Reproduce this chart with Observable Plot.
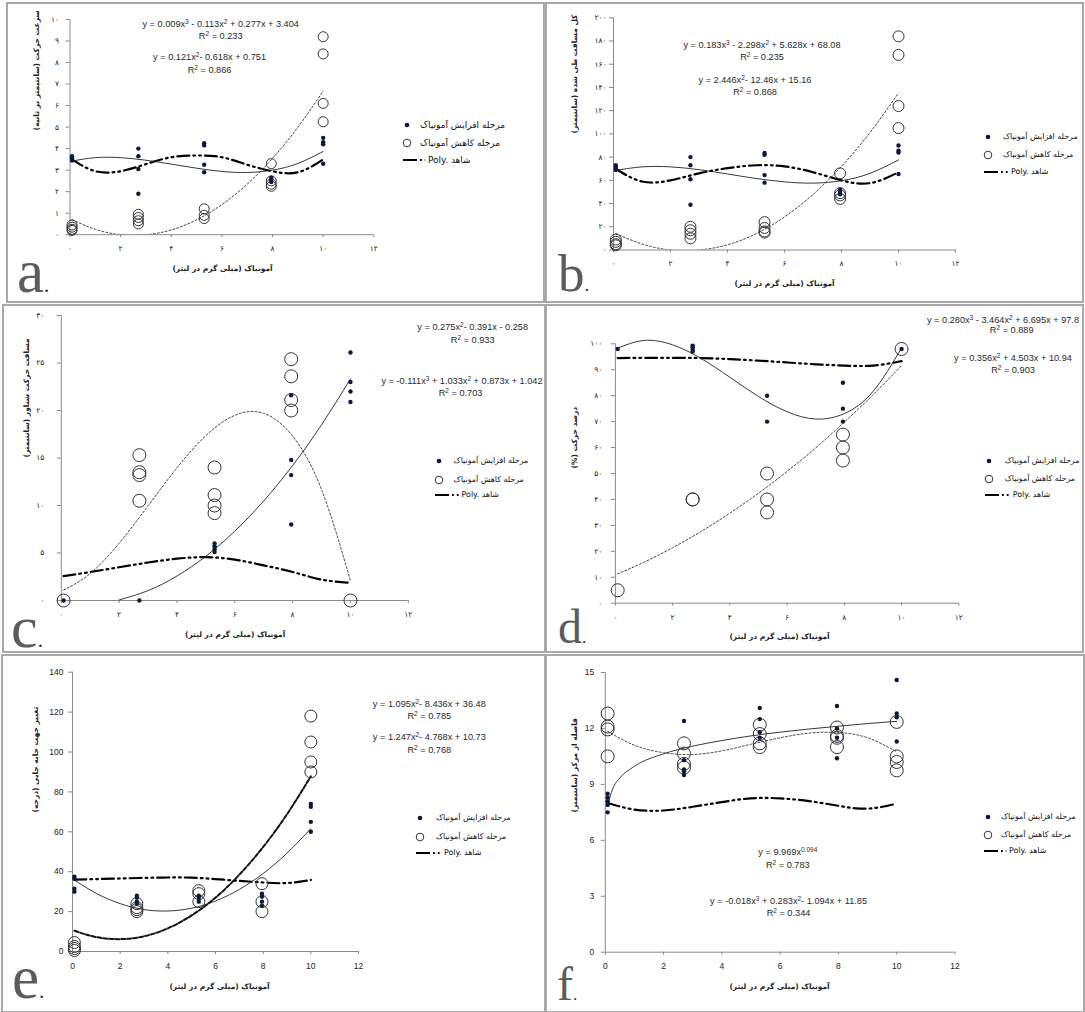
<!DOCTYPE html>
<html><head><meta charset="utf-8">
<script src="https://cdn.jsdelivr.net/npm/d3@7"></script>
<script src="https://cdn.jsdelivr.net/npm/@observablehq/plot@0.6"></script>
<style>
body{margin:0;background:#fff;}
#page{position:relative;width:1085px;height:1012px;overflow:hidden;background:#fff;}
.panel{position:absolute;overflow:hidden;}
.panel svg{position:absolute;left:0;top:0;}
.frame{position:absolute;border:2px solid #a8a8a8;box-sizing:border-box;pointer-events:none;}
.eq{position:absolute;transform:translate(-50%,-50%);white-space:nowrap;font:9.2px "Liberation Sans",Arial,sans-serif;color:#2a2a2a;line-height:1;}
.eq sup{font-size:6.5px;vertical-align:3.5px;line-height:0;}
.lg{position:absolute;white-space:nowrap;font-family:"DejaVu Sans",sans-serif;color:#111;transform:translateY(-50%);line-height:1;}
.sw{position:absolute;overflow:visible;}
.letter{position:absolute;font-family:"Liberation Serif","DejaVu Serif",serif;color:#5c5c5c;line-height:1;white-space:nowrap;}
.letter span{color:#333;}
</style></head><body><div id="page"></div>
<script>
// ---------- shared data ----------
const conc = [0.08, 2.7, 5.3, 7.95, 10];
const fitX = [0.08, 1, 2, 3, 4, 5, 6, 7, 8, 9, 10];
const xTicks = [0, 2, 4, 6, 8, 10, 12];
const xTitle = "آمونیاک (میلی گرم در لیتر)";
const legInc = "مرحله افزایش آمونیاک";
const legDec = "مرحله کاهش آمونیاک";
const legCtrl = "Poly. شاهد";

// ---------- panel a ----------
const aYTitle = "سرعت حرکت (سانتیمتر بر ثانیه)";
const aTicksY = [0,1,2,3,4,5,6,7,8,9,10];
const aInc = [[3.65,3.55,3.45],[4.0,3.65,3.05,1.9],[4.25,4.15,3.25,2.9],[2.65,2.55,2.45],[4.5,4.3,4.2,3.3]];
const aDec = [[0.45,0.35,0.25,0.2],[0.95,0.8,0.65,0.5],[1.2,0.9,0.75],[3.3,2.5,2.35,2.25],[9.2,8.4,6.1,5.25]];
const aFitInc = [3.42,3.58,3.58,3.46,3.28,3.09,2.94,2.89,3.0,3.31,3.87];
const aFitDec = [0.7,0.25,0,0,0.22,0.69,1.4,2.35,3.55,4.99,6.67];
const aCtrl = [3.5,2.95,2.95,3.28,3.6,3.68,3.6,3.25,2.95,2.9,3.5];
const aEqs = ["y = 0.009x<sup>3</sup> - 0.113x<sup>2</sup> + 0.277x + 3.404","R<sup>2</sup> = 0.233","y = 0.121x<sup>2</sup>- 0.618x + 0.751","R<sup>2</sup> = 0.866"];

// ---------- panel b ----------
const bYTitle = "کل مسافت طی شده (سانتیمتر)";
const bTicksY = [0,20,40,60,80,100,120,140,160,180,200];
const bInc = [[73,71.5,70,69],[80,73,61,39],[83.5,82,64.5,58],[52,50,48],[90,85.5,84,65.5]];
const bDec = [[9,7,5,4],[20,17,14,10],[24,19,16,15],[66,49,47,44],[184,168,124,105]];
const bFitInc = [68.5,71.6,71.6,69.2,65.5,61.6,58.7,57.6,59.7,66.0,77.6];
const bFitDec = [14.2,5.2,0,0,4.5,14.0,28.5,47.8,72.0,101.2,135.2];
const bCtrl = [70,59,60,66,70.5,73,72,67,60,57.6,67];
const bEqs = ["y = 0.183x<sup>3</sup> - 2.298x<sup>2</sup> + 5.628x + 68.08","R<sup>2</sup> = 0.235","y = 2.446x<sup>2</sup>- 12.46x + 15.16","R<sup>2</sup> = 0.868"];

// ---------- panel c ----------
const cYTitle = "مسافت حرکت شناور (سانتیمتر)";
const cTicksY = [0,5,10,15,20,25,30];
const cInc = [[0],[0],[6.0,5.7,5.4,5.1],[21.6,14.8,13.2,8.0],[26.1,23.0,22.0,20.9]];
const cDec = [[0],[15.3,13.5,13.2,10.5],[14.0,11.1,10.0,9.2],[25.4,23.6,21.1,20.0],[0]];
const cFitInc = [null,null,0.06,1.04,2.58,4.66,7.3,10.48,14.21,18.5,23.33];
const cFitDec = [1.1,2.84,6.03,9.96,13.96,17.36,19.49,19.7,17.3,11.67,2.07];
const cCtrl = [2.56,3.0,3.5,4.0,4.4,4.56,4.3,3.7,3.0,2.2,1.86];
const cEqs = ["y = 0.275x<sup>2</sup>- 0.391x - 0.258","R<sup>2</sup> = 0.933","y = -0.111x<sup>3</sup> + 1.033x<sup>2</sup> + 0.873x + 1.042","R<sup>2</sup> = 0.703"];

// ---------- panel d ----------
const dYTitle = "درصد حرکت (%)";
const dTicksY = [0,10,20,30,40,50,60,70,80,90,100];
const dInc = [[98],[99.3,98.7,97.8,97],[80,70],[85,75,70],[98]];
const dDec = [[5],[40,40],[50,40,35],[65,60,55],[98]];
const dFitInc = [98.3,101.3,99.6,94.3,87.1,79.7,73.8,71.0,73.1,81.6,98.4];
const dFitDec = [11.3,15.8,21.4,27.7,34.7,42.4,50.8,59.9,69.8,80.3,91.6];
const dCtrl = [94.5,94.6,94.6,94.5,94.1,93.5,92.8,92.1,91.6,91.6,93.3];
const dEqs = ["y = 0.280x<sup>3</sup> - 3.464x<sup>2</sup> + 6.695x + 97.8","R<sup>2</sup> = 0.889","y = 0.356x<sup>2</sup> + 4.503x + 10.94","R<sup>2</sup> = 0.903"];

// ---------- panel e ----------
const eYTitle = "تغییر جهت جابه جایی (درجه)";
const eTicksY = [0,20,40,60,80,100,120,140];
const eInc = [[37.5,36.5,31.5,30],[28,27,25,24],[28,27,25],[29,27.5,25,23],[74,72.5,65,60]];
const eDec = [[4.5,2.5,1.5,0.5],[24,22,21,20],[30.5,29,25],[34,25,20],[118,105,95,90]];
const eFitInc = [35.8,29.1,24.0,21.0,20.3,21.7,25.3,31.1,39.1,49.3,61.6];
const eFitDec = [10.4,7.2,6.2,7.6,11.6,18.1,27.0,38.5,52.4,68.8,87.8];
const eCtrl = [36,36.3,36.6,36.9,37.1,37,36.3,35.4,34.6,34.3,35.9];
const eEqs = ["y = 1.095x<sup>2</sup>- 8.436x + 36.48","R<sup>2</sup> = 0.785","y = 1.247x<sup>2</sup>- 4.768x + 10.73","R<sup>2</sup> = 0.768"];

// ---------- panel f ----------
const fYTitle = "فاصله از مرکز (سانتیمتر)";
const fTicksY = [0,3,6,9,12,15];
const fInc = [[8.5,8.3,8.1,7.9,7.5],[12.4,10.3,9.8,9.7,9.5],[13.1,12.5,11.8,11.5],[13.2,12.0,11.5,10.4],[14.6,12.8,12.6,11.3]];
const fDec = [[12.8,12.1,11.95,10.5],[11.2,10.65,10.1,9.9],[12.2,11.7,11.2,11.0],[12.05,11.6,11.5,11.0],[12.35,10.5,10.2,9.75]];
const fPowX = [0.08,0.25,0.5,1,2,3,4,5,6,7,8,9,10];
const fFitInc = [7.86,8.75,9.34,9.97,10.64,11.05,11.35,11.6,11.8,11.97,12.12,12.26,12.38];
const fFitDec = [11.85,11.1,10.7,10.6,10.8,11.15,11.5,11.75,11.78,11.5,10.75];
const fCtrl = [8.0,7.65,7.6,7.8,8.05,8.25,8.25,8.1,7.85,7.7,7.97];
const fEqs = ["y = 9.969x<sup>0.094</sup>","R<sup>2</sup> = 0.783","y = -0.018x<sup>3</sup> + 0.283x<sup>2</sup>- 1.094x + 11.85","R<sup>2</sup> = 0.344"];

// ---------- helpers ----------
const PD = "۰۱۲۳۴۵۶۷۸۹";
const fa = d => String(d).replace(/\d/g, c => PD[+c]);
const RLM = "\u200F";
const pts = g => g.flatMap((arr, i) => arr.map(v => ({x: conc[i], y: v})));
const crv = (xs, ys) => xs.map((x, i) => ({x, y: ys[i]})).filter(d => d.y != null);

const panels = [
 {L:7,T:3,W:537,H:299, x0:69.5,x12:373.3,yBot:234.2,yTop:19,ymax:10,yTicks:aTicksY,persian:true,pad:7,
  inc:aInc,dec:aDec,fitInc:aFitInc,fitDec:aFitDec,ctrl:aCtrl,rDec:5,clip:true,
  yTitle:aYTitle,yT:[36.5,130],xT:[222,270],
  eqs:aEqs,eqPos:[[220.7,25],[220.7,37.3],[209.6,58.3],[209.6,70.7]],
  leg:{mx:406.7,tx:420,ys:[125.3,143.3,160],fs:9}, letter:{ch:"a",x:17,base:295,fs:61}},
 {L:546,T:3,W:537,H:299, x0:613,x12:955,yBot:249.5,yTop:17.3,ymax:200,yTicks:bTicksY,persian:true,pad:3,
  inc:bInc,dec:bDec,fitInc:bFitInc,fitDec:bFitDec,ctrl:bCtrl,rDec:5.5,clip:true,
  yTitle:bYTitle,yT:[574.3,133],xT:[784,285.7],
  eqs:bEqs,eqPos:[[762,45.7],[762,57.7],[755,81],[755,93.3]],
  leg:{mx:987.6,tx:1003,ys:[136.7,155,171.7],fs:7.9}, letter:{ch:"b",x:558,base:294,fs:53}},
 {L:3,T:305,W:542,H:347, x0:60.8,x12:407.8,yBot:600,yTop:315,ymax:30,yTicks:cTicksY,persian:true,pad:13,
  inc:cInc,dec:cDec,fitInc:cFitInc,fitDec:cFitDec,ctrl:cCtrl,rDec:6.5,clip:false,
  yTitle:cYTitle,yT:[26,457],xT:[234.6,636.7],
  eqs:cEqs,eqPos:[[472.7,328.3],[472.7,340.7],[462,381.7],[460.6,394.3]],
  leg:{mx:438.7,tx:453.6,ys:[461,480,495],fs:7.9}, letter:{ch:"c",x:11,base:650,fs:60}},
 {L:546,T:305,W:537,H:347, x0:614.9,x12:958.3,yBot:602.7,yTop:343.3,ymax:100,yTicks:dTicksY,persian:true,pad:9,
  inc:dInc,dec:dDec,fitInc:dFitInc,fitDec:dFitDec,ctrl:dCtrl,rDec:6.5,clip:false,
  yTitle:dYTitle,yT:[574.3,468],xT:[779,638],
  eqs:dEqs,eqPos:[[1003,321],[1011.7,331],[1013,359],[1013,370.7]],
  leg:{mx:989.3,tx:1004.8,ys:[460.7,479.3,495.3],fs:7.9}, letter:{ch:"d",x:558,base:646,fs:48}},
 {L:2,T:655,W:543,H:357, x0:72,x12:358,yBot:951,yTop:671.7,ymax:140,yTicks:eTicksY,persian:false,pad:5,
  inc:eInc,dec:eDec,fitInc:eFitInc,fitDec:eFitDec,ctrl:eCtrl,rDec:6,clip:false,boldDash:true,
  yTitle:eYTitle,yT:[34.8,812],xT:[219,988.3],
  eqs:eEqs,eqPos:[[429.3,705],[429.3,717.3],[429.3,737.7],[429.3,750.7]],
  leg:{mx:420,tx:436,ys:[818,837,852.7],fs:7.9}, letter:{ch:"e",x:12,base:1001,fs:61}},
 {L:546,T:655,W:538,H:357, x0:604.8,x12:954.5,yBot:951.7,yTop:672,ymax:15,yTicks:fTicksY,persian:false,pad:7,
  inc:fInc,dec:fDec,fitInc:fFitInc,fitIncX:fPowX,fitDec:fFitDec,ctrl:fCtrl,rDec:6.5,clip:false,
  yTitle:fYTitle,yT:[573.6,812],xT:[779,988.3],
  eqs:fEqs,eqPos:[[787.8,852.7],[787.8,865.7],[788.6,902.3],[788.5,914]],
  leg:{mx:987.6,tx:1001,ys:[816.7,835.3,851],fs:7.9}, letter:{ch:"f",x:557,base:1003,fs:48}}
];

const page = document.getElementById("page");
const ns = "http://www.w3.org/2000/svg";

for (const p of panels) {
  const div = document.createElement("div");
  div.className = "panel";
  Object.assign(div.style, {left: p.L + "px", top: p.T + "px", width: p.W + "px", height: p.H + "px"});
  const fmt = p.persian ? fa : (d => String(d));
  const tickFont = p.persian ? {fontFamily: "DejaVu Sans", fontSize: 7.5} : {fontFamily: "Liberation Sans", fontSize: 8.5};
  const frameMidY = (p.yTop + p.yBot) / 2, frameMidX = (p.x0 + p.x12) / 2;
  const svg = Plot.plot({
    width: p.W, height: p.H,
    marginLeft: p.x0 - p.L, marginRight: p.L + p.W - p.x12,
    marginTop: p.yTop - p.T, marginBottom: p.T + p.H - p.yBot,
    x: {domain: [0, 12]},
    y: {domain: [0, p.ymax]},
    style: {background: "transparent", color: "#222", fontFamily: "DejaVu Sans", overflow: "visible"},
    marks: [
      Plot.axisY({ticks: p.yTicks, tickSize: 4, tickPadding: p.pad, tickFormat: fmt, label: null, stroke: "#888", fill: "#222", ...tickFont}),
      Plot.axisX({ticks: xTicks, tickSize: 3, tickPadding: 8, tickFormat: fmt, label: null, stroke: "#888", fill: "#222", ...tickFont}),
      Plot.ruleX([0], {stroke: "#8a8a8a", strokeWidth: 1}),
      Plot.ruleY([0], {stroke: "#8a8a8a", strokeWidth: 1}),
      Plot.line(crv(fitX, p.ctrl), {x: "x", y: "y", curve: "natural", stroke: "#000", strokeWidth: 2.2, strokeDasharray: "12,4,1.8,4,1.8,4"}),
      Plot.line(crv(fitX, p.fitDec), {x: "x", y: "y", curve: "natural", stroke: p.boldDash ? "#111" : "#444",
        strokeWidth: p.boldDash ? 2 : 1, strokeDasharray: p.boldDash ? "4,2" : "2,2", clip: p.clip}),
      Plot.line(crv(p.fitIncX || fitX, p.fitInc), {x: "x", y: "y", curve: p.fitIncX ? "monotone-x" : "natural", stroke: "#222", strokeWidth: 0.9, clip: p.clip}),
      Plot.dot(pts(p.dec), {x: "x", y: "y", r: p.rDec, stroke: "#333", fill: "none", strokeWidth: 1}),
      Plot.dot(pts(p.inc), {x: "x", y: "y", r: 2.2, fill: "#0b1a3c", stroke: "none"}),
      Plot.text([xTitle], {frameAnchor: "bottom", text: d => RLM + d + RLM, dx: p.xT[0] - frameMidX, dy: p.xT[1] - p.yBot,
        fontFamily: "DejaVu Sans", fontSize: 7.5, fontWeight: "bold", fill: "#222"}),
      Plot.text([p.yTitle], {frameAnchor: "left", rotate: -90, text: d => RLM + d + RLM, dx: p.yT[0] - p.x0, dy: p.yT[1] - frameMidY,
        fontFamily: "DejaVu Sans", fontSize: 7.5, fontWeight: "bold", fill: "#222"})
    ]
  });
  div.appendChild(svg);

  // equations
  p.eqs.forEach((t, i) => {
    const e = document.createElement("div");
    e.className = "eq";
    e.innerHTML = t;
    e.style.left = (p.eqPos[i][0] - p.L) + "px";
    e.style.top = (p.eqPos[i][1] - p.T) + "px";
    div.appendChild(e);
  });

  // legend
  const mk = (x, y, w, h, inner) => {
    const s = document.createElementNS(ns, "svg");
    s.setAttribute("class", "sw");
    s.setAttribute("width", w); s.setAttribute("height", h);
    s.style.left = x + "px"; s.style.top = y + "px";
    s.innerHTML = inner;
    div.appendChild(s);
  };
  const lx = p.leg.mx - p.L;
  const ly = p.leg.ys.map(y => y - p.T);
  mk(lx - 5, ly[0] - 5, 10, 10, '<circle cx="5" cy="5" r="2.3" fill="#0b1a3c"/>');
  mk(lx - 5, ly[1] - 5, 10, 10, '<circle cx="5" cy="5" r="3.8" fill="none" stroke="#333" stroke-width="1"/>');
  const lw = p.leg.tx - p.leg.mx + 9;
  mk(lx - 4, ly[2] - 3, lw, 6, `<line x1="0" y1="3" x2="${lw}" y2="3" stroke="#000" stroke-width="2" stroke-dasharray="14,3,1.8,3,1.8,3"/>`);
  [[legInc, 0, 0], [legDec, 1, 0], [legCtrl, 2, 8]].forEach(([t, i, off]) => {
    const l = document.createElement("div");
    l.className = "lg";
    l.style.fontSize = p.leg.fs + "px";
    l.textContent = t;
    l.style.left = (p.leg.tx - p.L + off) + "px";
    l.style.top = ly[i] + "px";
    div.appendChild(l);
  });

  page.appendChild(div);

  // panel letter (page level so it is never clipped)
  const le = document.createElement("div");
  le.className = "letter";
  le.style.fontSize = p.letter.fs + "px";
  le.style.left = p.letter.x + "px";
  le.style.top = (p.letter.base - 0.891 * p.letter.fs) + "px";
  le.innerHTML = p.letter.ch + '<span style="font-size:' + Math.round(p.letter.fs * 0.35) + 'px">.</span>';
  page.appendChild(le);

  const fr = document.createElement("div");
  fr.className = "frame";
  Object.assign(fr.style, {left: (p.L - 1) + "px", top: (p.T - 1) + "px", width: (p.W + 2) + "px", height: (p.H + 2) + "px"});
  page.appendChild(fr);
}
</script></body></html>
